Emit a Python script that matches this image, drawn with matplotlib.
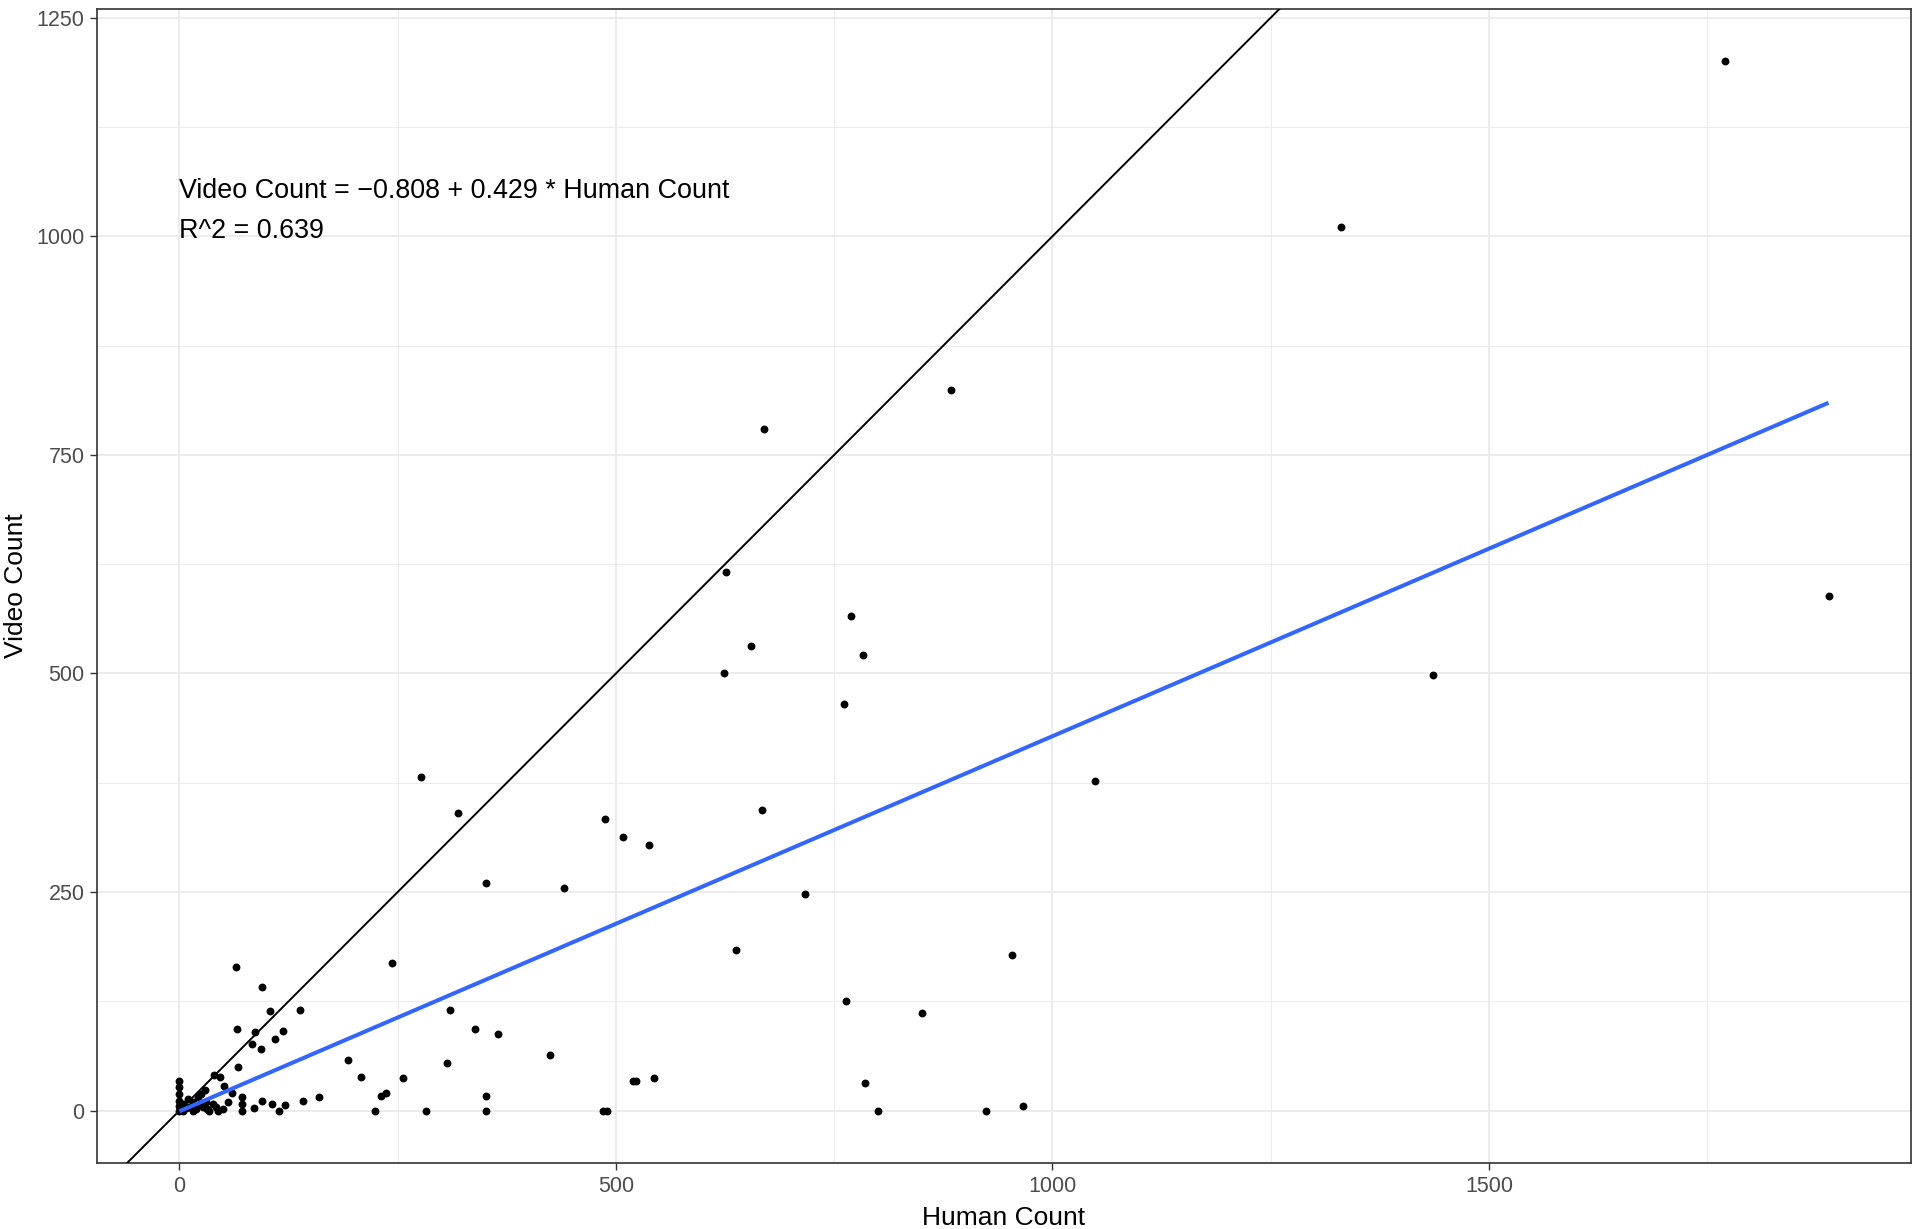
import numpy as np
import matplotlib.pyplot as plt

plt.rcParams['font.family'] = ['Liberation Sans', 'DejaVu Sans']

# Human count (x) and video count (y)
human = [
    1770, 1330, 884, 669, 626, 769, 655, 783, 624, 1436, 1889, 761,
    277, 1049, 319, 667, 488, 508, 538, 351, 441, 717, 638, 954,
    243, 65, 94, 763, 104, 138, 310, 850, 66, 87, 118, 338, 365,
    109, 83, 93, 424, 193, 307, 67, 208, 256, 544, 519, 523, 785,
    236, 231, 351, 160, 966, 142, 121, 106, 94, 85, 72, 72, 72,
    114, 224, 282, 351, 485, 490, 800, 924,
    0, 0, 0, 0, 0, 0, 2, 4, 4, 8, 10, 11, 15, 15, 19, 21, 22, 25,
    27, 29, 30, 32, 34, 38, 40, 42, 44, 46, 50, 51, 60, 55,
]
video = [
    1200, 1011, 824, 780, 616, 566, 531, 521, 500, 498, 588, 465,
    382, 377, 340, 344, 333, 313, 304, 260, 254, 248, 184, 178,
    169, 164, 141, 125, 114, 115, 115, 112, 93, 90, 91, 93, 88,
    82, 76, 70, 64, 58, 54, 50, 38, 37, 37, 34, 34, 31,
    20, 17, 17, 16, 5, 11, 6, 8, 11, 3, 16, 7, 0,
    0, 0, 0, 0, 0, 0, 0, 0,
    34, 27, 19, 11, 5, 0, 2, 8, 0, 3, 13, 4, 10, 0, 2, 15, 6, 19,
    4, 23, 10, 2, 0, 8, 41, 4, 0, 38, 2, 28, 20, 10,
]

# fitted line from the annotation
intercept = -0.808
slope = 0.429
r_squared = 0.639

human = np.array(human)
video = np.array(video)

fig = plt.figure(figsize=(19.13, 12.29), dpi=100)
ax = fig.add_axes([97 / 1913, 1 - 1163 / 1229, 1814 / 1913, 1154 / 1229])

# ggplot-like theme_bw
ax.set_xlim(-94.5, 1983.5)
ax.set_ylim(-60, 1260)
ax.set_xticks([0, 500, 1000, 1500])
ax.set_yticks([0, 250, 500, 750, 1000, 1250])
ax.set_xticks([250, 750, 1250, 1750], minor=True)
ax.set_yticks([125, 375, 625, 875, 1125], minor=True)
ax.grid(True, which='major', color='#EBEBEB', linewidth=1.3)
ax.grid(True, which='minor', color='#EBEBEB', linewidth=0.65)
ax.set_axisbelow(True)
for sp in ax.spines.values():
    sp.set_color('#333333')
    sp.set_linewidth(1.2)
ax.tick_params(which='major', length=5, width=1, color='#333333',
               labelsize=15.5, labelcolor='#4D4D4D', pad=4)
ax.tick_params(which='minor', length=0)

ax.scatter(human, video, s=32, color='black', linewidths=0, zorder=2)

# identity line and regression line
ax.axline((0, 0), slope=1, color='black', linewidth=1.4, zorder=3)
xfit = np.array([human.min(), human.max()])
ax.plot(xfit, intercept + slope * xfit, color='#3366FF', linewidth=2.9,
        zorder=4, solid_capstyle='butt')

ax.text(0, 1043.8, "Video Count = \u22120.808 + 0.429 * Human Count",
        fontsize=19.4, ha='left', va='baseline')
ax.text(0, 998, f"R^2 = {r_squared}", fontsize=19.4, ha='left', va='baseline')

ax.set_xlabel("Human Count", fontsize=19)
ax.set_ylabel("Video Count", fontsize=19)
ax.xaxis.label.set_va('baseline')
ax.xaxis.set_label_coords(0.5, (1163 - 1225) / 1154)
ax.yaxis.label.set_va('baseline')
ax.yaxis.set_label_coords((23 - 97) / 1814, 0.5)

fig.savefig("out.png", dpi=100)
